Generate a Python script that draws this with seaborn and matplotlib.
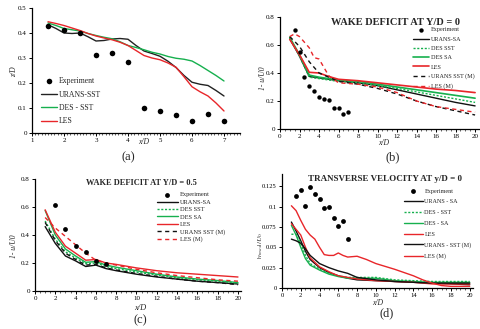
import numpy as np
import matplotlib
matplotlib.use("Agg")
import matplotlib.pyplot as plt
from matplotlib.ticker import FixedLocator, FixedFormatter, MultipleLocator
import seaborn as sns

sns.set_style("ticks")
plt.rcParams["font.family"] = ["Liberation Serif", "DejaVu Serif"]
plt.rcParams["mathtext.fontset"] = "stix"

RED = "#e8262a"
GREEN = "#16b04e"
BLACK = "#111111"

# ---------------- (a) vortex core height ----------------
a_exp_x = [1.5, 2.0, 2.5, 3.0, 3.5, 4.0, 4.5, 5.0, 5.5, 6.0, 6.5, 7.0]
a_exp_y = [0.427, 0.413, 0.400, 0.313, 0.320, 0.284, 0.099, 0.087, 0.072, 0.047, 0.077, 0.047]
a_x = [1.5, 1.75, 2.0, 2.25, 2.5, 2.75, 3.0, 3.25, 3.5, 3.75, 4.0, 4.25, 4.5, 4.75,
       5.0, 5.25, 5.5, 5.75, 6.0, 6.25, 6.5, 6.75, 7.0]
a_urans_sst = [0.433, 0.418, 0.400, 0.398, 0.400, 0.385, 0.368, 0.370, 0.376, 0.378, 0.375,
               0.350, 0.328, 0.318, 0.307, 0.287, 0.262, 0.230, 0.203, 0.195, 0.190, 0.170, 0.148]
a_des_sst = [0.440, 0.430, 0.418, 0.413, 0.408, 0.398, 0.390, 0.383, 0.377, 0.365, 0.350,
             0.342, 0.333, 0.323, 0.316, 0.306, 0.299, 0.295, 0.288, 0.270, 0.250, 0.230, 0.208]
a_les = [0.445, 0.438, 0.430, 0.420, 0.410, 0.398, 0.388, 0.380, 0.373, 0.363, 0.350,
         0.330, 0.310, 0.300, 0.293, 0.280, 0.263, 0.225, 0.185, 0.165, 0.148, 0.120, 0.088]
a_yticks = [0, 0.1, 0.2, 0.3, 0.4, 0.5]
a_yticklabels = ["0", "0.1", "0.2", "0.3", "0.4", "0.5"]

# ---------------- (b) wake deficit at y/D = 0 ----------------
b_exp_x = [1.5, 2.0, 2.5, 3.0, 3.5, 4.0, 4.5, 5.0, 5.5, 6.0, 6.5, 7.0]
b_exp_y = [0.706, 0.547, 0.370, 0.304, 0.271, 0.231, 0.215, 0.210, 0.151, 0.153, 0.106, 0.118]
b_x = [1, 2, 3, 4, 5, 6, 8, 10, 12, 14, 16, 18, 20]
b_urans_sa = [0.645, 0.52, 0.375, 0.365, 0.355, 0.345, 0.33, 0.31, 0.28, 0.25, 0.22, 0.19, 0.165]
b_des_sst = [0.65, 0.52, 0.37, 0.36, 0.35, 0.34, 0.33, 0.31, 0.29, 0.265, 0.24, 0.215, 0.19]
b_des_sa = [0.655, 0.53, 0.385, 0.37, 0.36, 0.35, 0.34, 0.32, 0.30, 0.28, 0.26, 0.24, 0.22]
b_les = [0.64, 0.53, 0.405, 0.40, 0.375, 0.355, 0.345, 0.33, 0.315, 0.30, 0.285, 0.275, 0.26]
b_urans_sst_m = [0.66, 0.59, 0.48, 0.40, 0.37, 0.34, 0.32, 0.29, 0.25, 0.20, 0.16, 0.13, 0.10]
b_les_m_x = [1, 1.5, 2, 3, 3.5, 4, 5, 6, 8, 10, 12, 14, 16, 18, 20]
b_les_m = [0.66, 0.68, 0.66, 0.58, 0.51, 0.50, 0.38, 0.33, 0.32, 0.30, 0.26, 0.20, 0.16, 0.14, 0.12]
b_yticks = [0, 0.2, 0.4, 0.6, 0.8]
b_yticklabels = ["0", "0.2", "0.4", "0.6", "0.8"]

# ---------------- (c) wake deficit at y/D = 0.5 ----------------
c_exp_x = [2, 3, 4, 5, 6, 7]
c_exp_y = [0.614, 0.44, 0.324, 0.276, 0.217, 0.195]
c_x = [1, 2, 3, 4, 5, 6, 7, 8, 10, 12, 14, 16, 18, 20]
c_urans_sa = [0.46, 0.34, 0.25, 0.215, 0.175, 0.185, 0.16, 0.145, 0.12, 0.10, 0.085, 0.07, 0.06, 0.05]
c_des_sst = [0.50, 0.37, 0.28, 0.235, 0.195, 0.20, 0.175, 0.16, 0.135, 0.115, 0.095, 0.08, 0.07, 0.055]
c_des_sa = [0.575, 0.40, 0.30, 0.25, 0.205, 0.21, 0.185, 0.17, 0.145, 0.12, 0.10, 0.085, 0.075, 0.06]
c_les = [0.58, 0.42, 0.32, 0.27, 0.22, 0.225, 0.20, 0.19, 0.165, 0.145, 0.13, 0.12, 0.11, 0.10]
c_urans_sst_m = [0.49, 0.36, 0.27, 0.225, 0.185, 0.19, 0.165, 0.15, 0.125, 0.105, 0.085, 0.07, 0.06, 0.045]
c_les_m = [0.525, 0.45, 0.39, 0.33, 0.27, 0.22, 0.20, 0.185, 0.155, 0.13, 0.11, 0.095, 0.08, 0.07]
c_yticks = [0, 0.2, 0.4, 0.6, 0.8]
c_yticklabels = ["0", "0.2", "0.4", "0.6", "0.8"]

# ---------------- (d) transverse velocity at y/D = 0 ----------------
d_exp_x = [1.5, 2.0, 2.5, 3.0, 3.5, 4.0, 4.5, 5.0, 5.5, 6.0, 6.5, 7.0]
d_exp_y = [0.1135, 0.120, 0.101, 0.124, 0.116, 0.109, 0.098, 0.0996, 0.0865, 0.076, 0.082, 0.0607]
d_x = [1, 1.5, 2, 2.5, 3, 4, 5, 6, 7, 8, 10, 12, 14, 16, 18, 20]
d_urans_sa = [0.081, 0.070, 0.058, 0.045, 0.035, 0.025, 0.019, 0.015, 0.012, 0.010, 0.009, 0.008, 0.007, 0.006, 0.005, 0.004]
d_des_sst = [0.066, 0.066, 0.055, 0.040, 0.030, 0.023, 0.018, 0.015, 0.013, 0.013, 0.013, 0.010, 0.009, 0.008, 0.008, 0.008]
d_des_sa = [0.077, 0.065, 0.050, 0.036, 0.028, 0.022, 0.017, 0.014, 0.012, 0.012, 0.012, 0.009, 0.008, 0.007, 0.007, 0.007]
d_les = [0.079, 0.072, 0.065, 0.050, 0.037, 0.026, 0.020, 0.015, 0.013, 0.011, 0.009, 0.008, 0.007, 0.005, 0.005, 0.005]
d_urans_sst_m = [0.060, 0.058, 0.055, 0.048, 0.040, 0.030, 0.025, 0.021, 0.018, 0.013, 0.010, 0.008, 0.007, 0.006, 0.006, 0.006]
d_les_m_x = [1, 1.5, 2, 2.5, 3, 3.5, 4, 4.5, 5, 5.5, 6, 6.5, 7, 8, 9, 10, 12, 14, 15, 16, 17, 18, 20]
d_les_m = [0.101, 0.095, 0.083, 0.072, 0.065, 0.060, 0.050, 0.041, 0.040, 0.040, 0.043, 0.040,
           0.038, 0.039, 0.035, 0.030, 0.023, 0.015, 0.010, 0.006, 0.003, 0.002, 0.002]
d_yticks = [0, 0.025, 0.05, 0.075, 0.1, 0.125]
d_yticklabels = ["0", "0.025", "0.05", "0.075", "0.1", "0.125"]

W, H = 481, 329
fig = plt.figure(figsize=(W / 100, H / 100), dpi=100)


def make_axes(left, right, top, bottom):
    return fig.add_axes([left / W, 1 - bottom / H, (right - left) / W, (bottom - top) / H])


def style(ax, yticks, yticklabels, tick_fs=5.0):
    sns.despine(ax=ax)
    for s in ("left", "bottom"):
        ax.spines[s].set_linewidth(0.9)
        ax.spines[s].set_color("black")
    ax.yaxis.set_major_locator(FixedLocator(yticks))
    ax.yaxis.set_major_formatter(FixedFormatter(yticklabels))
    ax.tick_params(axis="both", which="major", direction="out", length=2.2, width=0.7,
                   labelsize=tick_fs, pad=1.5, colors="black")
    ax.tick_params(axis="x", which="minor", direction="out", length=1.4, width=0.5)
    ax.set_xlabel("")
    ax.set_ylabel("")


def line(ax, x, y, color, label, ls="-", lw=1.0):
    sns.lineplot(x=x, y=y, ax=ax, color=color, lw=lw, linestyle=ls, label=label,
                 sort=False, legend=False)


def exp(ax, x, y, s):
    sns.scatterplot(x=x, y=y, ax=ax, color="black", s=s, marker="o", linewidth=0,
                    label="Experiment", legend=False, zorder=5)


def legend(ax, anchor, fs, hl, spacing):
    h, l = ax.get_legend_handles_labels()
    ax.legend(h, l, loc="upper left", bbox_to_anchor=anchor, frameon=False,
              fontsize=fs, handlelength=hl, handletextpad=0.3, labelspacing=spacing,
              borderpad=0, borderaxespad=0, markerscale=1.0)


def title(ax, text, x, y, fs):
    ax.text(x, y, text, transform=ax.transAxes, ha="center", va="center",
            fontsize=fs, fontweight="bold")


# (a)
ax = make_axes(32, 240, 8, 133)
exp(ax, a_exp_x, a_exp_y, 16)
line(ax, a_x, a_urans_sst, "#222222", "URANS-SST")
line(ax, a_x, a_des_sst, GREEN, "DES - SST")
line(ax, a_x, a_les, RED, "LES")
ax.set_xlim(1, 7.5)
ax.set_ylim(0, 0.5)
ax.xaxis.set_major_locator(FixedLocator([1, 2, 3, 4, 5, 6, 7]))
ax.xaxis.set_minor_locator(MultipleLocator(0.1))
style(ax, a_yticks, a_yticklabels)
ax.text(4.5, -0.035, "x/D", fontsize=5.5, style="italic", ha="center", va="center")
ax.text(-0.085, 0.49, "z/D", transform=ax.transAxes, rotation=90, fontsize=5.5,
        style="italic", ha="center", va="center")
legend(ax, (0.045, 0.445), 5.6, 2.0, 0.68)
fig.text(128 / W, 1 - 157 / H, "(a)", ha="center", va="center", fontsize=9)

# (b)
ax = make_axes(280, 479, 17, 129)
exp(ax, b_exp_x, b_exp_y, 10)
line(ax, b_x, b_urans_sa, BLACK, "URANS-SA")
line(ax, b_x, b_des_sst, GREEN, "DES SST", ls=(0, (1.5, 1.2)))
line(ax, b_x, b_des_sa, GREEN, "DES SA", lw=1.2)
line(ax, b_x, b_les, RED, "LES", lw=1.2)
line(ax, b_x, b_urans_sst_m, BLACK, "URANS SST (M)", ls=(0, (3, 2.5)))
line(ax, b_les_m_x, b_les_m, RED, "LES (M)", ls=(0, (3, 2.5)))
ax.set_xlim(0, 20.4)
ax.set_ylim(0, 0.8)
ax.xaxis.set_major_locator(MultipleLocator(2))
ax.xaxis.set_minor_locator(MultipleLocator(0.5))
style(ax, b_yticks, b_yticklabels)
ax.text(0.52, -0.125, "x/D", transform=ax.transAxes, fontsize=5.5, style="italic",
        ha="center", va="center")
ax.text(-0.085, 0.45, "1- u/U0", transform=ax.transAxes, rotation=90, fontsize=5.5,
        style="italic", ha="center", va="center")
title(ax, "WAKE DEFICIT AT Y/D = 0", 0.58, 0.955, 7.5)
legend(ax, (0.67, 0.91), 4.4, 2.6, 0.66)
fig.text(393 / W, 1 - 157 / H, "(b)", ha="center", va="center", fontsize=9)

# (c)
ax = make_axes(35, 241, 179, 291)
exp(ax, c_exp_x, c_exp_y, 12)
line(ax, c_x, c_urans_sa, BLACK, "URANS-SA")
line(ax, c_x, c_des_sst, GREEN, "DES SST", ls=(0, (1.5, 1.2)))
line(ax, c_x, c_des_sa, GREEN, "DES SA")
line(ax, c_x, c_les, RED, "LES")
line(ax, c_x, c_urans_sst_m, BLACK, "URANS SST (M)", ls=(0, (3, 2.5)))
line(ax, c_x, c_les_m, RED, "LES (M)", ls=(0, (3, 2.5)))
ax.set_xlim(0, 20.3)
ax.set_ylim(0, 0.8)
ax.xaxis.set_major_locator(MultipleLocator(2))
ax.xaxis.set_minor_locator(MultipleLocator(0.5))
style(ax, c_yticks, c_yticklabels)
ax.text(0.51, -0.15, "x/D", transform=ax.transAxes, fontsize=6, style="italic",
        ha="center", va="center")
ax.text(-0.1, 0.4, "1- u/U0", transform=ax.transAxes, rotation=90, fontsize=5.5,
        style="italic", ha="center", va="center")
title(ax, "WAKE DEFICIT AT Y/D = 0.5", 0.515, 0.964, 6.0)
legend(ax, (0.59, 0.885), 4.6, 3.4, 0.3)
fig.text(140 / W, 1 - 320 / H, "(c)", ha="center", va="center", fontsize=9)

# (d)
ax = make_axes(282, 473, 174, 288)
exp(ax, d_exp_x, d_exp_y, 12)
line(ax, d_x, d_urans_sa, BLACK, "URANS - SA")
line(ax, d_x, d_des_sst, GREEN, "DES - SST", ls=(0, (1.5, 1.2)))
line(ax, d_x, d_des_sa, GREEN, "DES - SA")
line(ax, d_x, d_les, RED, "LES")
line(ax, d_x, d_urans_sst_m, BLACK, "URANS - SST (M)")
line(ax, d_les_m_x, d_les_m, RED, "LES (M)")
ax.set_xlim(0, 20.35)
ax.set_ylim(0, 0.14)
ax.xaxis.set_major_locator(MultipleLocator(2))
ax.xaxis.set_minor_locator(MultipleLocator(0.5))
style(ax, d_yticks, d_yticklabels, tick_fs=4.7)
ax.text(0.5, -0.13, "x/D", transform=ax.transAxes, fontsize=5.5, style="italic",
        ha="center", va="center")
ax.text(-0.11, 0.375, r"$|v_{max}|/U_0$", transform=ax.transAxes, rotation=90,
        fontsize=5.3, ha="center", va="center")
title(ax, "TRANSVERSE VELOCITY AT y/D = 0", 0.54, 0.956, 6.5)
legend(ax, (0.64, 0.875), 4.4, 3.0, 0.9)
fig.text(387 / W, 1 - 313 / H, "(d)", ha="center", va="center", fontsize=9)

fig.savefig("out.png", dpi=100)
